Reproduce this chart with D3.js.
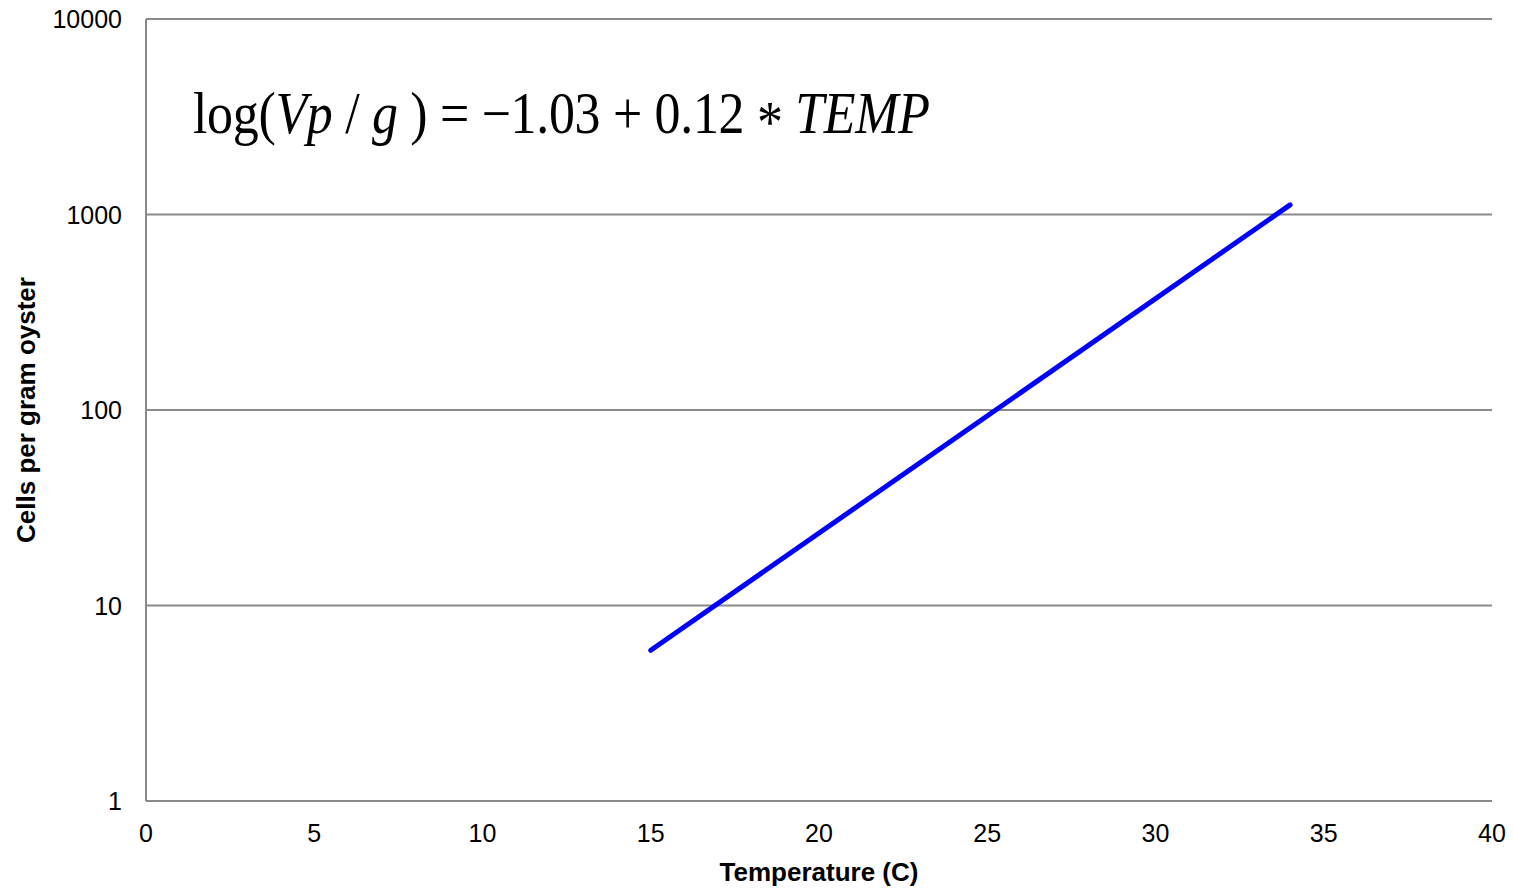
<!DOCTYPE html>
<html>
<head>
<meta charset="utf-8">
<script src="https://cdn.jsdelivr.net/npm/d3@7"></script>
<style>
  body { margin: 0; background: #fff; }
  svg { display: block; }
</style>
</head>
<body>
<svg width="1513" height="888"></svg>
<script>
// chart data
const temps = [15, 34];
const cellsPerGram = [5.9, 1120];
const xTicks = [0, 5, 10, 15, 20, 25, 30, 35, 40];
const yTicks = [1, 10, 100, 1000, 10000];

const svg = d3.select("svg");
const margin = { left: 146, right: 21, top: 19, bottom: 87 };
const width = +svg.attr("width");
const height = +svg.attr("height");

const x = d3.scaleLinear().domain([0, 40]).range([margin.left, width - margin.right]);
const y = d3.scaleLog().domain([1, 10000]).range([height - margin.bottom, margin.top]);

const axisFont = "'Liberation Sans', Arial, sans-serif";

// horizontal gridlines
svg.append("g")
  .selectAll("line")
  .data(yTicks)
  .join("line")
  .attr("x1", x(0))
  .attr("x2", x(40))
  .attr("y1", d => y(d))
  .attr("y2", d => y(d))
  .attr("stroke", "#8a8a8a")
  .attr("stroke-width", 2);

// left axis line
svg.append("line")
  .attr("x1", x(0)).attr("x2", x(0))
  .attr("y1", y(1)).attr("y2", y(10000))
  .attr("stroke", "#8a8a8a")
  .attr("stroke-width", 2);

// y tick labels
svg.append("g")
  .selectAll("text")
  .data(yTicks)
  .join("text")
  .attr("x", x(0) - 24)
  .attr("y", d => y(d) + 9)
  .attr("text-anchor", "end")
  .attr("font-family", axisFont)
  .attr("font-size", 25)
  .attr("fill", "#000")
  .text(d => d);

// x tick labels
svg.append("g")
  .selectAll("text")
  .data(xTicks)
  .join("text")
  .attr("x", d => x(d))
  .attr("y", y(1) + 41)
  .attr("text-anchor", "middle")
  .attr("font-family", axisFont)
  .attr("font-size", 25)
  .attr("fill", "#000")
  .text(d => d);

// axis titles
svg.append("text")
  .attr("x", (x(0) + x(40)) / 2)
  .attr("y", 881)
  .attr("text-anchor", "middle")
  .attr("font-family", axisFont)
  .attr("font-size", 26)
  .attr("font-weight", "bold")
  .text("Temperature (C)");

svg.append("text")
  .attr("transform", `translate(35,${(y(1) + y(10000)) / 2}) rotate(-90)`)
  .attr("text-anchor", "middle")
  .attr("font-family", axisFont)
  .attr("font-size", 26)
  .attr("font-weight", "bold")
  .text("Cells per gram oyster");

// regression line
const line = d3.line()
  .x(d => x(d[0]))
  .y(d => y(d[1]));

svg.append("path")
  .datum(temps.map((t, i) => [t, cellsPerGram[i]]))
  .attr("d", line)
  .attr("fill", "none")
  .attr("stroke", "#0000ff")
  .attr("stroke-width", 5)
  .attr("stroke-linecap", "round");

// equation
const eq = svg.append("text")
  .attr("transform", "translate(193,133) scale(1,1.12)")
  .attr("font-family", "'Liberation Serif', 'Times New Roman', serif")
  .attr("font-size", 52)
  .attr("fill", "#000")
  .attr("textLength", 737)
  .attr("lengthAdjust", "spacing");

const parts = [
  ["log(", false], ["Vp", true], [" / ", false], ["g", true],
  [" ) = \u22121.03 + 0.12 ", false], ["*", false], [" TEMP", true]
];
parts.forEach(([t, it]) => {
  eq.append("tspan")
    .attr("font-style", it ? "italic" : "normal")
    .attr("dy", t === "*" ? 8 : (t === " TEMP" ? -8 : 0))
    .text(t);
});
</script>
</body>
</html>
